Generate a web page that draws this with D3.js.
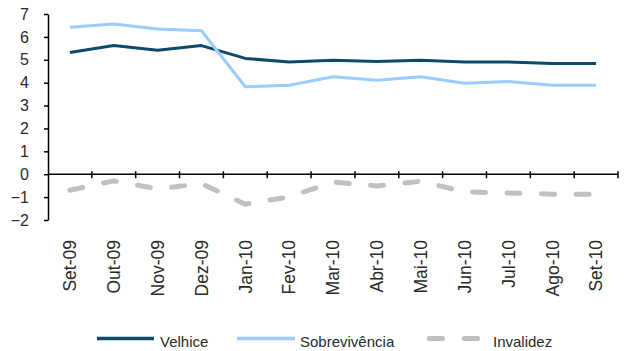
<!DOCTYPE html>
<html>
<head>
<meta charset="utf-8">
<script src="https://cdn.jsdelivr.net/npm/d3@7"></script>
<style>
  html, body { margin: 0; padding: 0; background: #fff; }
  svg { display: block; font-family: "Liberation Sans", Arial, sans-serif; }
</style>
</head>
<body>
<svg id="chart" width="624" height="351"></svg>
<script>
// Monthly series, Sep 2009 – Sep 2010
const categories = ["Set-09", "Out-09", "Nov-09", "Dez-09", "Jan-10", "Fev-10", "Mar-10",
                    "Abr-10", "Mai-10", "Jun-10", "Jul-10", "Ago-10", "Set-10"];
const velhice = [5.32, 5.62, 5.42, 5.62, 5.06, 4.90, 4.98, 4.92, 4.98, 4.90, 4.90, 4.84, 4.84];
const sobrevivencia = [6.42, 6.56, 6.34, 6.27, 3.82, 3.89, 4.26, 4.11, 4.26, 3.97, 4.05, 3.89, 3.89];
const invalidez = [-0.70, -0.29, -0.64, -0.41, -1.31, -0.99, -0.34, -0.51, -0.31, -0.77, -0.82, -0.87, -0.87];
const yTicks = [-2, -1, 0, 1, 2, 3, 4, 5, 6, 7];
const seriesNames = ["Velhice", "Sobrevivência", "Invalidez"];

const svg = d3.select("#chart");

const xBand = d3.scaleBand().domain(categories).range([48, 618]).paddingInner(0).paddingOuter(0);
const xc = c => xBand(c) + xBand.bandwidth() / 2;
const y = d3.scaleLinear().domain([-2, 7]).range([220, 14]);

const series = [
  { name: seriesNames[0], values: velhice, color: "#0c4a6a", width: 3, dash: null },
  { name: seriesNames[1], values: sobrevivencia, color: "#99ccff", width: 3, dash: null },
  { name: seriesNames[2], values: invalidez, color: "#c0c0c0", width: 5, dash: "13,21.5" }
];

// Y axis
const yAxis = d3.axisLeft(y).tickValues(yTicks).tickSize(4).tickSizeOuter(0).tickPadding(15)
  .tickFormat(d3.format("d"));
const gy = svg.append("g").attr("transform", "translate(48,0)").call(yAxis);
gy.select(".domain").attr("stroke", "#000").attr("stroke-width", 1.5);
gy.selectAll(".tick line").attr("stroke", "#000").attr("stroke-width", 1.5);
gy.selectAll(".tick text")
  .attr("fill", "#2a2a2a").style("font-size", "16px")
  .style("font-family", "'Liberation Sans', Arial, sans-serif");

// X axis line at zero with crossing ticks on band boundaries
const y0 = y(0);
svg.append("line")
  .attr("x1", xBand.range()[0]).attr("x2", xBand.range()[1])
  .attr("y1", y0).attr("y2", y0)
  .attr("stroke", "#000").attr("stroke-width", 1.5);
const boundaries = categories.map(c => xBand(c) + xBand.bandwidth());
svg.append("g").selectAll("line").data(boundaries).join("line")
  .attr("x1", d => d).attr("x2", d => d)
  .attr("y1", y0 - 3).attr("y2", y0 + 4)
  .attr("stroke", "#000").attr("stroke-width", 1.5);

// Category labels, rotated
svg.append("g").selectAll("text").data(categories).join("text")
  .attr("transform", d => `translate(${xc(d)},240) rotate(-90)`)
  .attr("text-anchor", "end")
  .attr("dy", "0.36em")
  .attr("fill", "#2a2a2a")
  .style("font-size", "17.5px")
  .text(d => d);

// Lines
const line = d3.line()
  .x((d, i) => xc(categories[i]))
  .y(d => y(d));

series.forEach(s => {
  svg.append("path")
    .datum(s.values)
    .attr("d", line)
    .attr("fill", "none")
    .attr("stroke", s.color)
    .attr("stroke-width", s.width)
    .attr("stroke-linejoin", "round")
    .attr("stroke-linecap", s.dash ? "round" : "butt")
    .attr("stroke-dasharray", s.dash);
});

// Legend
const legendY = 338.5;
const legendItems = [
  { s: series[0], x1: 97, x2: 154, tx: 160 },
  { s: series[1], x1: 237, x2: 295, tx: 300 },
  { s: series[2], x1: 429.2, x2: 477.5, tx: 493 }
];
const lg = svg.append("g");
legendItems.forEach(it => {
  lg.append("line")
    .attr("x1", it.x1).attr("x2", it.x2)
    .attr("y1", legendY).attr("y2", legendY)
    .attr("stroke", it.s.color)
    .attr("stroke-width", it.s.dash ? 5 : 3.3)
    .attr("stroke-linecap", it.s.dash ? "round" : "butt")
    .attr("stroke-dasharray", it.s.dash ? "13.3,21.7" : null);
  lg.append("text")
    .attr("x", it.tx).attr("y", 346.5)
    .attr("fill", "#2a2a2a")
    .style("font-size", "15px")
    .text(it.s.name);
});
</script>
</body>
</html>
